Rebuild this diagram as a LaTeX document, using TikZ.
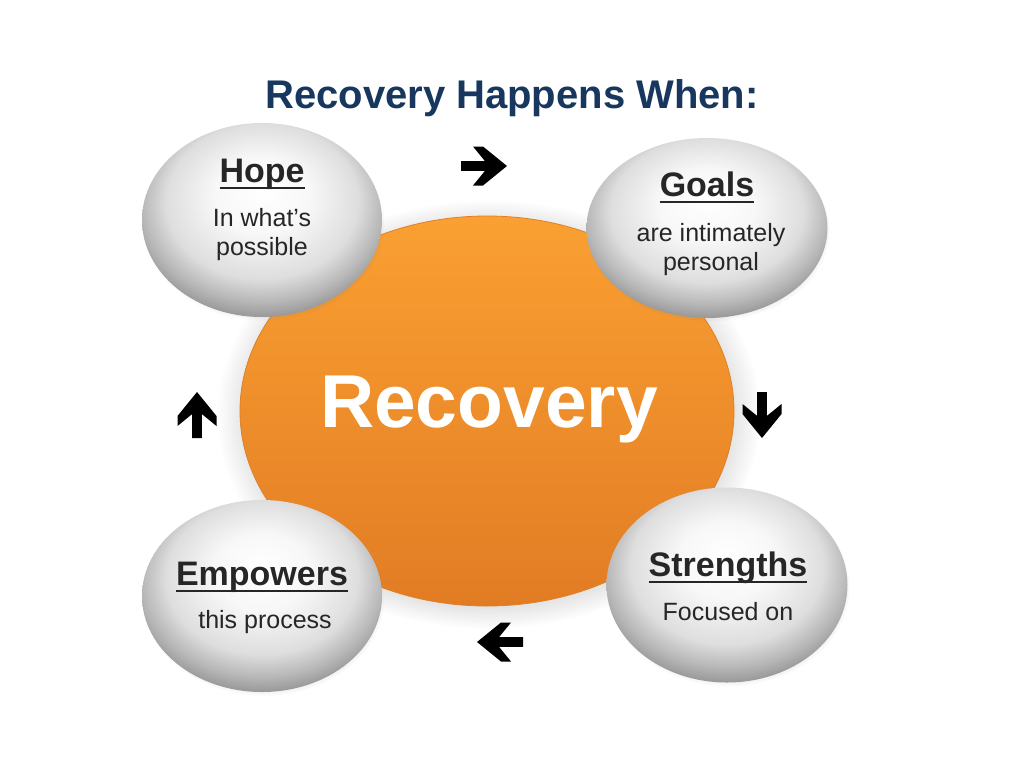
\documentclass[tikz,border=0pt]{standalone}
\usepackage{fontspec}
\setmainfont{Liberation Sans}
\usetikzlibrary{shapes.geometric,shadows}
\definecolor{titleblue}{RGB}{23,55,94}
\definecolor{orangetop}{RGB}{250,160,50}
\definecolor{orangebot}{RGB}{226,124,36}
\definecolor{orangeedge}{RGB}{222,128,40}
\definecolor{textgray}{RGB}{38,38,38}
\pgfdeclareradialshading{bubbleshade}{\pgfpoint{0bp}{8bp}}{color(0bp)=(white); color(10bp)=(white!97!black); color(20bp)=(black!13); color(25bp)=(black!28); color(30bp)=(black!46); color(50bp)=(black!46)}
\newcommand{\hdrline}[1]{\setbox0\hbox{#1}\rlap{\rule[-0.2em]{\wd0}{0.06em}}\box0}
\begin{document}
\begin{tikzpicture}[x=1pt, y=-1pt,
	bubble/.style={ellipse, minimum width=240pt, minimum height=192pt, shade, shading=bubbleshade, circular drop shadow={shadow xshift=1.5pt, shadow yshift=-3pt, shadow scale=1.01, opacity=0.3}},
	hdr/.style={font=\fontsize{34}{40}\selectfont\bfseries, text=textgray, anchor=base, inner sep=0pt},
	sub/.style={font=\fontsize{25}{29}\selectfont, text=textgray, align=center, inner sep=0pt},
	fatarrow/.pic={\fill[black] (-23,4.8) -- (1,4.8) -- (-11,19.5) -- (-1,19.5) -- (23,0) -- (-1,-19.5) -- (-11,-19.5) -- (1,-4.8) -- (-23,-4.8) -- cycle;}]
	\useasboundingbox (0,0) rectangle (1024,768);
	
	% Tieu de
	\node[font=\fontsize{40}{48}\selectfont\bfseries, text=titleblue, anchor=base] (title) at (512,108) {Recovery Happens When:};
	
	% Hinh tron giua
	\node[ellipse, minimum width=494pt, minimum height=390pt, top color=orangetop, bottom color=orangebot, draw=orangeedge, line width=0.8pt, circular drop shadow={shadow xshift=1.5pt, shadow yshift=-3pt, opacity=0.3}] (core) at (487,411) {};
	\node[font=\fontsize{75}{80}\selectfont\bfseries, text=white, anchor=base] (coreT) at (489,427) {Recovery};
	
	% Bon hinh xam
	\node[bubble, minimum height=194pt] (hope) at (262,220) {};
	\node[bubble, minimum width=241pt, minimum height=180pt] (goals) at (707,228) {};
	\node[bubble, minimum width=241pt, minimum height=195pt] (strengths) at (727,585) {};
	\node[bubble] (empowers) at (262,596) {};
	
	\node[hdr] (hopeT) at (262,182) {\hdrline{Hope}};
	\node[sub] (hopeB) at (262,235) {In what’s\\possible};
	\node[hdr] (goalsT) at (707,196) {\hdrline{Goals}};
	\node[sub] (goalsB) at (711,250) {are intimately\\personal};
	\node[hdr] (strengthsT) at (728,576) {\hdrline{Strengths}};
	\node[sub, anchor=base] (strengthsB) at (728,620) {Focused on};
	\node[hdr] (empowersT) at (262,585) {\hdrline{Empowers}};
	\node[sub, anchor=base] (empowersB) at (265,628) {this process};
	
	% Mui ten
	\pic at (484,166) {fatarrow};
	\pic[rotate=-90] at (762,415) {fatarrow};
	\pic[rotate=180] at (500,642) {fatarrow};
	\pic[rotate=90] at (197,415) {fatarrow};
\end{tikzpicture}
\end{document}
